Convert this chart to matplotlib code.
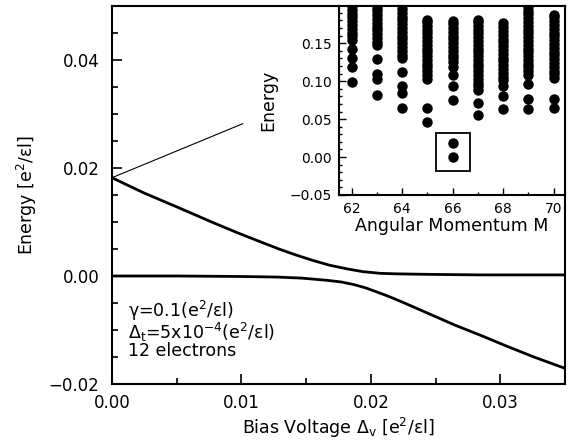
import matplotlib
matplotlib.use("Agg")
import matplotlib.pyplot as plt
from matplotlib.patches import Rectangle
from matplotlib.ticker import MultipleLocator

plt.rcParams['font.family'] = ['DejaVu Sans']
plt.rcParams['mathtext.fontset'] = 'dejavusans'

# main panel: energy levels vs bias voltage
upper_x = [0.0, 0.00245, 0.0051, 0.0077, 0.0097, 0.0115, 0.0129, 0.0142, 0.0155,
           0.0168, 0.0182, 0.0194, 0.0207, 0.0219, 0.0245, 0.0286, 0.035]
upper_y = [0.0182, 0.0154, 0.0127, 0.0100, 0.0080, 0.0063, 0.0050, 0.0039, 0.0029,
           0.0020, 0.0013, 0.0008, 0.0005, 0.0004, 0.0003, 0.0002, 0.0002]
lower_x = [0.0, 0.0051, 0.0102, 0.0128, 0.0147, 0.0166, 0.0177, 0.0187, 0.0196,
           0.0204, 0.0214, 0.0225, 0.0245, 0.0265, 0.0286, 0.0305, 0.0326, 0.035]
lower_y = [0.0, 0.0, -0.0001, -0.0002, -0.0004, -0.0008, -0.0011, -0.0016, -0.0022,
           -0.0029, -0.0038, -0.0049, -0.0070, -0.0091, -0.0111, -0.0130, -0.0150, -0.0171]
thin_x = [0.0, 0.0101]
thin_y = [0.0182, 0.0282]

# inset: spectrum per angular momentum
m_values = [62, 63, 64, 65, 66, 67, 68, 69, 70]
levels = {
    62: [0.099, 0.119, 0.130, 0.143, 0.154, 0.159, 0.164, 0.169, 0.174, 0.179, 0.184,
         0.189, 0.194, 0.199, 0.204],
    63: [0.082, 0.103, 0.110, 0.129, 0.147, 0.152, 0.157, 0.162, 0.167, 0.172, 0.177,
         0.182, 0.187, 0.192, 0.197, 0.202, 0.207],
    64: [0.064, 0.084, 0.093, 0.112, 0.130, 0.135, 0.140, 0.145, 0.150, 0.155, 0.160,
         0.165, 0.170, 0.175, 0.180, 0.185, 0.190, 0.195, 0.200, 0.205],
    65: [0.046, 0.064, 0.103, 0.108, 0.113, 0.118, 0.123, 0.128, 0.133, 0.138, 0.143,
         0.148, 0.153, 0.158, 0.163, 0.168, 0.173, 0.178, 0.181],
    66: [0.000, 0.018, 0.075, 0.094, 0.108, 0.118, 0.125, 0.130, 0.135, 0.140, 0.145,
         0.150, 0.155, 0.160, 0.165, 0.170, 0.175, 0.179],
    67: [0.055, 0.071, 0.088, 0.093, 0.098, 0.103, 0.108, 0.113, 0.118, 0.123, 0.128,
         0.133, 0.138, 0.143, 0.148, 0.153, 0.158, 0.163, 0.168, 0.173, 0.178, 0.181],
    68: [0.063, 0.080, 0.093, 0.101, 0.106, 0.111, 0.116, 0.121, 0.126, 0.131, 0.136,
         0.141, 0.146, 0.151, 0.156, 0.161, 0.166, 0.171, 0.176],
    69: [0.063, 0.077, 0.096, 0.108, 0.113, 0.118, 0.123, 0.128, 0.133, 0.138, 0.143,
         0.148, 0.153, 0.158, 0.163, 0.168, 0.173, 0.178, 0.183, 0.188, 0.193, 0.198,
         0.203, 0.208],
    70: [0.065, 0.076, 0.104, 0.109, 0.114, 0.119, 0.124, 0.129, 0.134, 0.139, 0.144,
         0.149, 0.154, 0.159, 0.164, 0.169, 0.174, 0.179, 0.184, 0.187],
}


def tick_fmt(v, p):
    if abs(v) < 1e-9:
        return '0.00'
    return ('%.2f' % v).replace('-', '\u2212')


fig = plt.figure(figsize=(5.74, 4.45), dpi=100)
ax = fig.add_axes([0.1951, 0.1371, 0.7892, 0.8494])

ax.plot(thin_x, thin_y, color='black', lw=0.8)
ax.plot(upper_x, upper_y, color='black', lw=2.0, solid_joinstyle='round')
ax.plot(lower_x, lower_y, color='black', lw=2.0, solid_joinstyle='round')

ax.set_xlim(0, 0.035)
ax.set_ylim(-0.02, 0.05)
ax.xaxis.set_major_locator(MultipleLocator(0.01))
ax.xaxis.set_minor_locator(MultipleLocator(0.005))
ax.yaxis.set_major_locator(MultipleLocator(0.02))
ax.yaxis.set_minor_locator(MultipleLocator(0.005))
ax.xaxis.set_major_formatter(plt.FuncFormatter(tick_fmt))
ax.yaxis.set_major_formatter(plt.FuncFormatter(tick_fmt))
ax.tick_params(which='both', direction='in', labelsize=12, width=1.2)
ax.tick_params(which='major', length=7)
ax.tick_params(which='minor', length=4)
ax.tick_params(axis='y', pad=9)
ax.tick_params(axis='x', pad=7)
for s in ax.spines.values():
    s.set_linewidth(1.5)
ax.set_xlabel('Bias Voltage Δ$_\\mathregular{v}$ [e$^\\mathregular{2}$/εl]', fontsize=12.5, labelpad=3)
ax.set_ylabel('Energy [e$^\\mathregular{2}$/εl]', fontsize=12.5, labelpad=7)

ax.text(0.035, 0.192, 'γ=0.1(e$^\\mathregular{2}$/εl)', transform=ax.transAxes,
        fontsize=12.5, va='center')
ax.text(0.035, 0.136, 'Δ$_\\mathregular{t}$=5x10$^\\mathregular{-4}$(e$^\\mathregular{2}$/εl)',
        transform=ax.transAxes, fontsize=12.5, va='center')
ax.text(0.035, 0.087, '12 electrons', transform=ax.transAxes, fontsize=12.5, va='center')

# inset
ins = fig.add_axes([0.5906, 0.5618, 0.3937, 0.4247])
for m in m_values:
    ins.plot([m] * len(levels[m]), levels[m], 'o', color='black', ms=7.5, mew=0)
ins.add_patch(Rectangle((65.35, -0.0185), 1.32, 0.0498, fill=False, lw=1.3, color='black'))
ins.set_xlim(61.5, 70.45)
ins.set_ylim(-0.05, 0.199)
ins.xaxis.set_major_locator(MultipleLocator(2))
ins.xaxis.set_minor_locator(MultipleLocator(1))
ins.yaxis.set_major_locator(MultipleLocator(0.05))
ins.yaxis.set_minor_locator(MultipleLocator(0.01))
ins.yaxis.set_major_formatter(plt.FuncFormatter(tick_fmt))
ins.tick_params(which='both', direction='in', labelsize=10, width=1.0)
ins.tick_params(which='major', length=5)
ins.tick_params(which='minor', length=2.5)
ins.tick_params(axis='x', pad=5)
ins.tick_params(axis='y', pad=5)
for s in ins.spines.values():
    s.set_linewidth(1.5)
ins.set_xlabel('Angular Momentum M', fontsize=12.5, labelpad=1)
ins.set_ylabel('Energy', fontsize=12.5, labelpad=9)

fig.savefig('out.png', dpi=100)
